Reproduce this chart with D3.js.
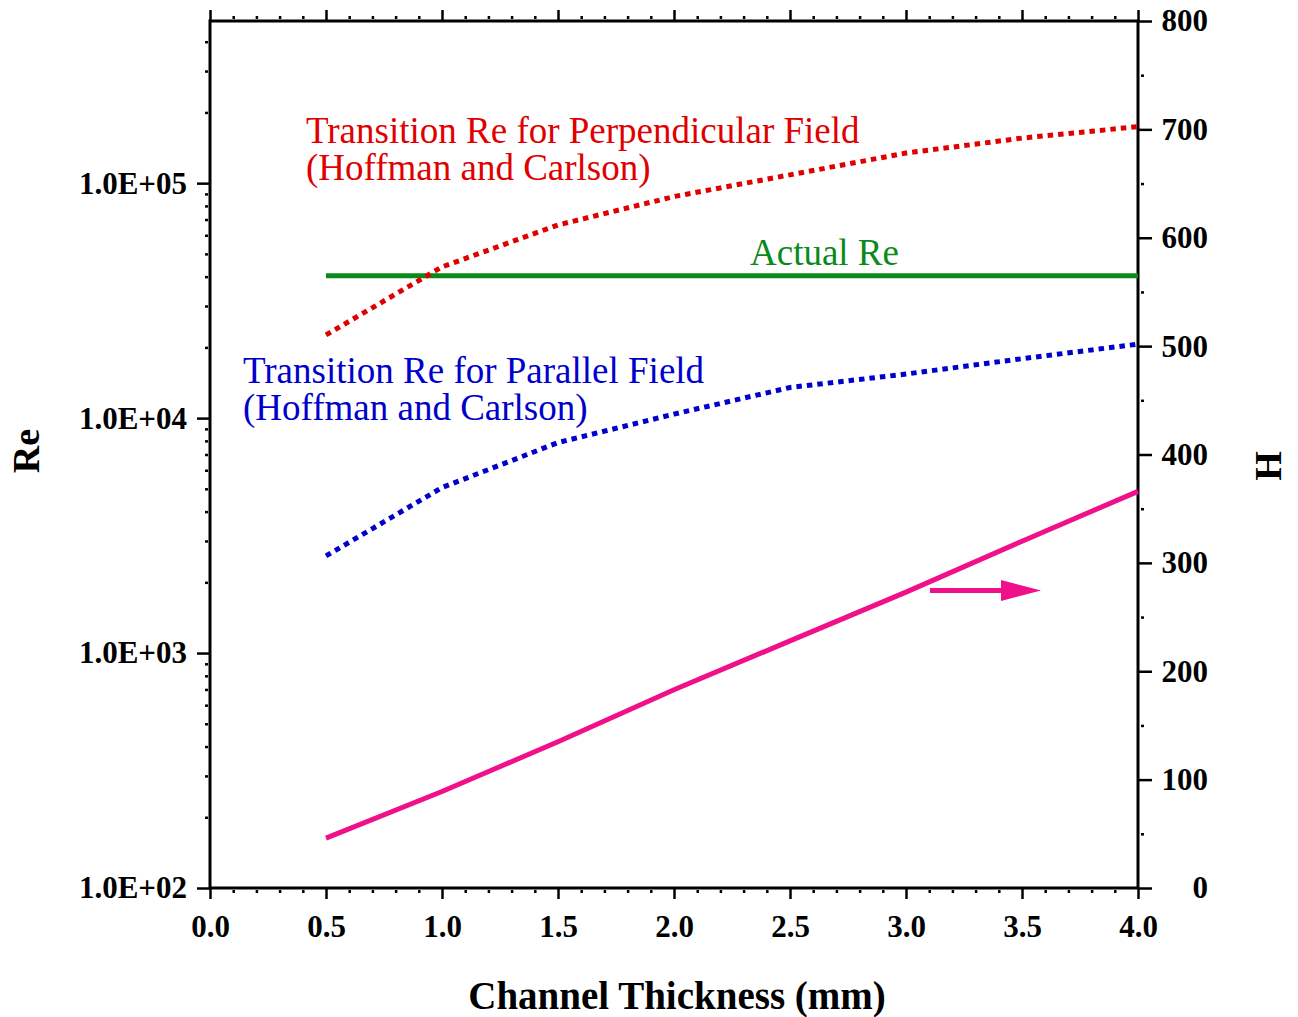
<!DOCTYPE html>
<html>
<head>
<meta charset="utf-8">
<script src="https://cdn.jsdelivr.net/npm/d3@7"></script>
<style>
    body { margin: 0; background: #fff; }
    svg text { font-family: "Liberation Serif", "Times New Roman", serif; }
</style>
</head>
<body>
<svg id="chart" width="1298" height="1017"></svg>
<script>
// channel thickness in mm
var thickness = [0.5, 1.0, 1.5, 2.0, 2.5, 3.0, 3.5, 4.0];
// Reynolds numbers (left, log axis)
var rePerpendicular = [22600, 44000, 66400, 87700, 108500, 134300, 155500, 174000];
var reParallel = [2590, 5060, 7870, 10400, 13500, 15400, 17900, 20650];
var reActual = [40400, 40400, 40400, 40400, 40400, 40400, 40400, 40400];
// Hartmann number (right axis)
var hartmann = [46, 89, 135, 183, 228, 273, 320, 366];

var xTicks = [0, 0.5, 1, 1.5, 2, 2.5, 3, 3.5, 4];
var reTicks = [1e2, 1e3, 1e4, 1e5];
var hTicks = [0, 100, 200, 300, 400, 500, 600, 700, 800];

var svg = d3.select("#chart");

var plotLeft = 210, plotRight = 1138, plotTop = 21, plotBottom = 888;

var x = d3.scaleLinear().domain([0, 4]).range([plotLeft, plotRight]);
var yRe = d3.scaleLog().domain([100, 4.9e5]).range([plotBottom, plotTop]);
var yH = d3.scaleLinear().domain([0, 800]).range([plotBottom, plotTop]);

var red = "#e00000", blue = "#0000cc", green = "#0a8a1a", pink = "#f0118a";

// minor ticks
var xMinor = d3.range(0, 4.0001, 0.1).filter(function (v) {
    return Math.abs(v * 2 - Math.round(v * 2)) > 1e-6;
});
var reMinor = [];
[100, 1000, 10000, 100000].forEach(function (dec) {
    for (var k = 2; k <= 9; k++) {
        if (dec * k <= 4.9e5) reMinor.push(dec * k);
    }
});
var hMinor = d3.range(50, 800, 100);

var xFormat = d3.format(".1f");
function reFormat(d) {
    var e = Math.round(Math.log10(d));
    return "1.0E+" + (e < 10 ? "0" : "") + e;
}

// bottom axis
svg.append("g")
    .attr("transform", "translate(0," + plotBottom + ")")
    .call(d3.axisBottom(x).tickValues(xTicks).tickFormat(xFormat).tickSize(11).tickPadding(16));
svg.append("g")
    .attr("transform", "translate(0," + (plotBottom + 2) + ")")
    .call(d3.axisBottom(x).tickValues(xMinor).tickFormat("").tickSize(3));

// top axis
svg.append("g")
    .attr("transform", "translate(0," + plotTop + ")")
    .call(d3.axisTop(x).tickValues(xTicks).tickFormat("").tickSize(11));
svg.append("g")
    .attr("transform", "translate(0," + (plotTop - 2) + ")")
    .call(d3.axisTop(x).tickValues(xMinor).tickFormat("").tickSize(3));

// left axis
svg.append("g")
    .attr("transform", "translate(" + plotLeft + ",0)")
    .call(d3.axisLeft(yRe).tickValues(reTicks).tickFormat(reFormat).tickSize(13).tickPadding(10));
svg.append("g")
    .attr("transform", "translate(" + (plotLeft - 2) + ",0)")
    .call(d3.axisLeft(yRe).tickValues(reMinor).tickFormat("").tickSize(3));

// right axis (labels right-aligned)
var rightAxis = svg.append("g")
    .attr("transform", "translate(" + plotRight + ",0)")
    .call(d3.axisRight(yH).tickValues(hTicks).tickFormat(d3.format("d")).tickSize(14).tickPadding(8));
rightAxis.selectAll(".tick text")
    .attr("x", 70)
    .attr("text-anchor", "end");
svg.append("g")
    .attr("transform", "translate(" + (plotRight + 3) + ",0)")
    .call(d3.axisRight(yH).tickValues(hMinor).tickFormat("").tickSize(3));

svg.selectAll(".domain").remove();
svg.selectAll(".tick line")
    .attr("stroke", "#000")
    .attr("stroke-width", 2.5);
svg.selectAll(".tick text")
    .attr("fill", "#000")
    .attr("font-size", 31)
    .attr("font-weight", "bold");

// frame
svg.append("rect")
    .attr("x", plotLeft)
    .attr("y", plotTop)
    .attr("width", plotRight - plotLeft)
    .attr("height", plotBottom - plotTop)
    .attr("fill", "none")
    .attr("stroke", "#000")
    .attr("stroke-width", 3);

// lines
var reLine = d3.line()
    .x(function (d) { return x(d[0]); })
    .y(function (d) { return yRe(d[1]); });
var hLine = d3.line()
    .x(function (d) { return x(d[0]); })
    .y(function (d) { return yH(d[1]); });

function pairs(values) {
    return thickness.map(function (t, i) { return [t, values[i]]; });
}

svg.append("path")
    .datum(pairs(reActual))
    .attr("d", reLine)
    .attr("fill", "none")
    .attr("stroke", green)
    .attr("stroke-width", 5);

svg.append("path")
    .datum(pairs(rePerpendicular))
    .attr("d", reLine)
    .attr("fill", "none")
    .attr("stroke", red)
    .attr("stroke-width", 5)
    .attr("stroke-dasharray", "5.5,5");

svg.append("path")
    .datum(pairs(reParallel))
    .attr("d", reLine)
    .attr("fill", "none")
    .attr("stroke", blue)
    .attr("stroke-width", 5)
    .attr("stroke-dasharray", "5.5,5");

svg.append("path")
    .datum(pairs(hartmann))
    .attr("d", hLine)
    .attr("fill", "none")
    .attr("stroke", pink)
    .attr("stroke-width", 5);

// arrow pointing to the right axis
svg.append("line")
    .attr("x1", 930)
    .attr("y1", 590.5)
    .attr("x2", 1004)
    .attr("y2", 590.5)
    .attr("stroke", pink)
    .attr("stroke-width", 5);
svg.append("path")
    .attr("d", "M1001,580L1041,590.5L1001,601Z")
    .attr("fill", pink);

// annotations
function note(lines, px, py, color) {
    var t = svg.append("text")
        .attr("fill", color)
        .attr("font-size", 37);
    lines.forEach(function (s, i) {
        t.append("tspan")
            .attr("x", px)
            .attr("y", py + i * 37)
            .text(s);
    });
}
note(["Transition Re for Perpendicular Field", "(Hoffman and Carlson)"], 306, 143, red);
note(["Transition Re for Parallel Field", "(Hoffman and Carlson)"], 243, 383, blue);
note(["Actual Re"], 750, 265, green);

// axis titles
svg.append("text")
    .attr("x", 677)
    .attr("y", 1009)
    .attr("text-anchor", "middle")
    .attr("font-size", 39)
    .attr("font-weight", "bold")
    .text("Channel Thickness (mm)");

svg.append("text")
    .attr("transform", "translate(39,451) rotate(-90)")
    .attr("text-anchor", "middle")
    .attr("font-size", 38)
    .attr("font-weight", "bold")
    .text("Re");

svg.append("text")
    .attr("transform", "translate(1281,466) rotate(-90)")
    .attr("text-anchor", "middle")
    .attr("font-size", 38)
    .attr("font-weight", "bold")
    .text("H");
</script>
</body>
</html>
